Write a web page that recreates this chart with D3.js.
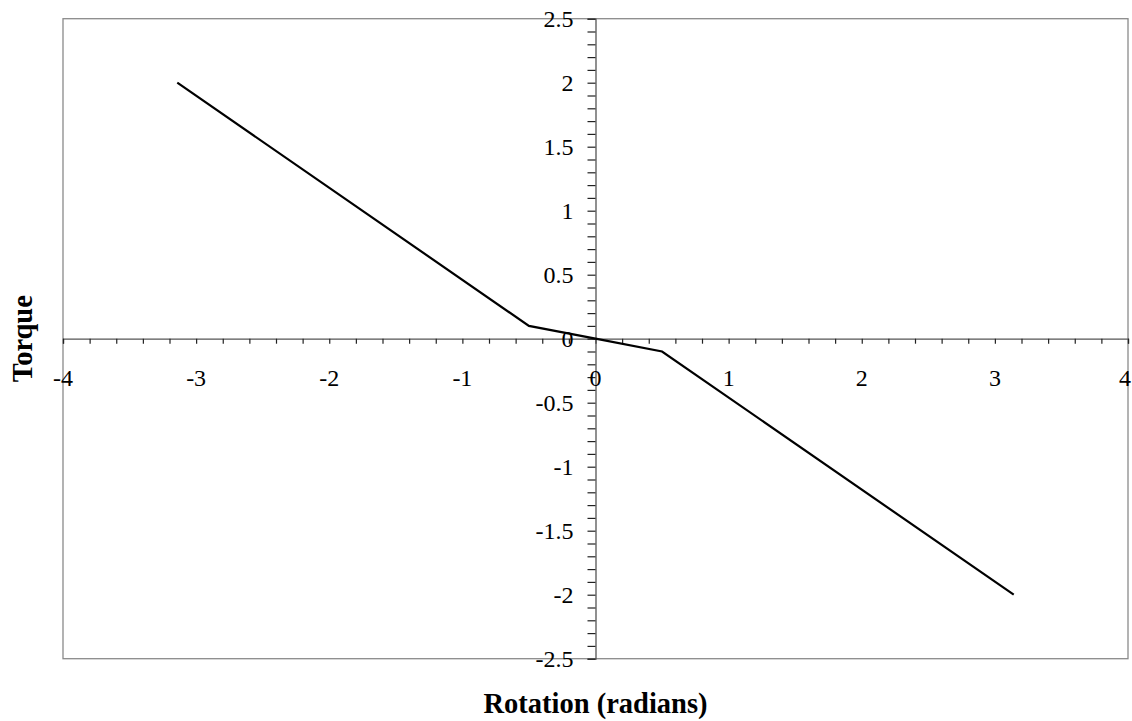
<!DOCTYPE html>
<html>
<head>
<meta charset="utf-8">
<script src="https://cdn.jsdelivr.net/npm/d3@7"></script>
<style>
  html, body { margin: 0; padding: 0; background: #fff; }
  svg { display: block; }
  text { font-family: "Liberation Serif", "Times New Roman", serif; fill: #000; }
</style>
</head>
<body>
<svg id="chart" width="1132" height="721"></svg>
<script>
// Torque vs rotation response (piecewise linear)
const rotation = [-3.14159, -0.5, 0, 0.5, 3.14159];
const torque   = [2, 0.1, 0, -0.1, -2];

// Axis labelling
const xTickLabels = [-4, -3, -2, -1, 0, 1, 2, 3, 4];
const yTickLabels = [-2.5, -2, -1.5, -1, -0.5, 0, 0.5, 1, 1.5, 2, 2.5];
const xTitle = "Rotation (radians)";
const yTitle = "Torque";

const W = 1132;
const svg = d3.select("#chart");
const plot = { left: 63, right: 1128, top: 18.7, bottom: 658.7 };

const x = d3.scaleLinear().domain([-4, 4]).range([plot.left, plot.right]);
const y = d3.scaleLinear().domain([-2.5, 2.5]).range([plot.bottom, plot.top]);

// plot frame
svg.append("rect")
  .attr("x", plot.left).attr("y", plot.top)
  .attr("width", plot.right - plot.left).attr("height", plot.bottom - plot.top)
  .attr("fill", "none").attr("stroke", "#8a8a8a").attr("stroke-width", 1.3);

// minor tick positions
const xTicks = d3.range(0, 41).map(i => -4 + i * 0.2);
const yTicks = d3.range(0, 51).map(i => -2.5 + i * 0.1);

// horizontal axis through y = 0
const xAxis = d3.axisBottom(x).tickValues(xTicks).tickSize(5).tickFormat("");
const gx = svg.append("g").attr("transform", `translate(0,${y(0)})`).call(xAxis);
gx.select(".domain").attr("stroke", "#555").attr("stroke-width", 1.3);
gx.selectAll(".tick line").attr("stroke", "#222").attr("stroke-width", 1.2);

// vertical axis through x = 0
const yAxis = d3.axisLeft(y).tickValues(yTicks).tickSize(8).tickFormat("");
const gy = svg.append("g").attr("transform", `translate(${x(0)},0)`).call(yAxis);
gy.select(".domain").attr("stroke", "#555").attr("stroke-width", 1.3);
gy.selectAll(".tick line").attr("stroke", "#222").attr("stroke-width", 1.2);

// tick labels (kept inside the drawing width)
const xLabels = svg.append("g").selectAll("text").data(xTickLabels).join("text")
  .attr("x", d => x(d))
  .attr("y", y(0) + 47)
  .attr("text-anchor", "middle")
  .attr("font-size", 24)
  .text(d => d);
xLabels.each(function() {
  const b = this.getBBox();
  const over = b.x + b.width - (W - 1);
  if (over > 0) d3.select(this).attr("x", +d3.select(this).attr("x") - over);
});

svg.append("g").selectAll("text").data(yTickLabels).join("text")
  .attr("x", x(0) - 22)
  .attr("y", d => y(d))
  .attr("dy", "0.35em")
  .attr("text-anchor", "end")
  .attr("font-size", 24)
  .text(d => d);

// series
const line = d3.line().x(d => x(d[0])).y(d => y(d[1]));
svg.append("path")
  .datum(d3.zip(rotation, torque))
  .attr("d", line)
  .attr("fill", "none")
  .attr("stroke", "#000")
  .attr("stroke-width", 2.2)
  .attr("stroke-linejoin", "miter");

// axis titles
svg.append("text")
  .attr("x", x(0))
  .attr("y", 713)
  .attr("text-anchor", "middle")
  .attr("font-size", 28.5)
  .attr("font-weight", "bold")
  .text(xTitle);

svg.append("text")
  .attr("transform", `translate(32,${y(0)}) rotate(-90)`)
  .attr("text-anchor", "middle")
  .attr("font-size", 28.5)
  .attr("font-weight", "bold")
  .text(yTitle);
</script>
</body>
</html>
